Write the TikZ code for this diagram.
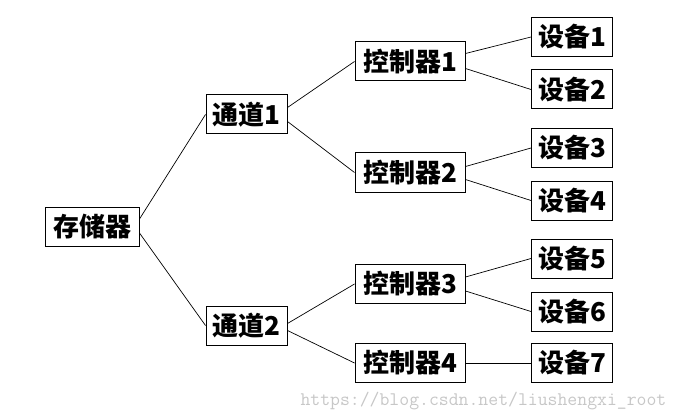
\documentclass[tikz,border=0pt]{standalone}
\usepackage{fontspec}
\newfontfamily\cjk{Noto Sans CJK SC}
\usepackage{tikz}

\begin{document}
\begin{tikzpicture}[x=1pt, y=-1pt,
    every node/.style={draw, line width=1pt, inner sep=0pt, minimum height=39pt,
      font=\cjk\bfseries\fontsize{26}{28}\selectfont},
    link/.style={line width=0.7pt}]
      \useasboundingbox (0,0) rectangle (680,417);

      % Livello 0
      \node (S) at (92,227) [minimum width=94pt] {存储器};

      % Canali
      \node (T1) at (246.5,114.5) [minimum width=81pt] {通道1};
      \node (T2) at (246.5,325.5) [minimum width=81pt] {通道2};

      % Controllori
      \node (K1) at (410,61.5) [minimum width=110pt] {控制器1};
      \node (K2) at (410,172.5) [minimum width=110pt] {控制器2};
      \node (K3) at (410,284) [minimum width=110pt] {控制器3};
      \node (K4) at (410,363) [minimum width=110pt] {控制器4};

      % Dispositivi
      \node (D1) at (572,37) [minimum width=81pt] {设备1};
      \node (D2) at (572,89.5) [minimum width=81pt] {设备2};
      \node (D3) at (572,148) [minimum width=81pt] {设备3};
      \node (D4) at (572,200.5) [minimum width=81pt] {设备4};
      \node (D5) at (572,258.5) [minimum width=81pt] {设备5};
      \node (D6) at (572,311.5) [minimum width=81pt] {设备6};
      \node (D7) at (572,363) [minimum width=81pt] {设备7};

      % Collegamenti
      \draw[link] ([yshift=8pt]S.east) -- (T1.west);
      \draw[link] ([yshift=-6pt]S.east) -- (T2.west);
      \draw[link] ([yshift=7pt]T1.east) -- (K1.west);
      \draw[link] ([yshift=-7pt]T1.east) -- (K2.west);
      \draw[link] ([yshift=2pt]T2.east) -- (K3.west);
      \draw[link] ([yshift=-5pt]T2.east) -- (K4.west);
      \draw[link] ([yshift=8pt]K1.east) -- (D1.west);
      \draw[link] ([yshift=-7pt]K1.east) -- (D2.west);
      \draw[link] ([yshift=6pt]K2.east) -- (D3.west);
      \draw[link] ([yshift=-7pt]K2.east) -- (D4.west);
      \draw[link] ([yshift=7pt]K3.east) -- (D5.west);
      \draw[link] ([yshift=-7pt]K3.east) -- (D6.west);
      \draw[link] (K4.east) -- (D7.west);

      % Filigrana
      \node (W) at (300,405) [anchor=base west, draw=none, text=black!22,
        font=\ttfamily\fontsize{19.2}{20}\selectfont] {https://blog.csdn.net/liushengxi\_root};
    \end{tikzpicture}
\end{document}
